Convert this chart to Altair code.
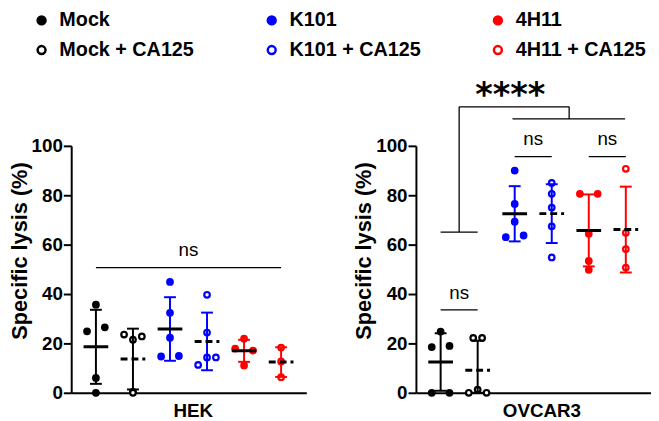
import altair as alt
import pandas as pd

# ---------------- data ----------------
groups = ["Mock", "Mock + CA125", "K101", "K101 + CA125", "4H11", "4H11 + CA125"]
stroke_colors = ["#000000", "#000000", "#0000ff", "#0000ff", "#ff0000", "#ff0000"]
fill_colors = ["#000000", "#ffffff", "#0000ff", "#ffffff", "#ff0000", "#ffffff"]

# HEK (values in %, slot = horizontal scatter position of each dot)
hek_mock = [35.7, 24.9, 26.5, 6.0, 0.0]
hek_mock_slot = [0, -1, 1, 0, 0]
hek_mock_ca = [23.6, 21.5, 22.8, 0.4, 0.0]
hek_mock_ca_slot = [-1, 0, 1, 0, 0]
hek_k101 = [44.9, 32.4, 22.3, 14.7, 14.9]
hek_k101_slot = [0, 0, 0, -1, 1]
hek_k101_ca = [39.7, 24.4, 11.3, 14.3, 14.3]
hek_k101_ca_slot = [0, 0, -1, 0, 1]
hek_4h11 = [21.9, 17.9, 17.1, 11.1]
hek_4h11_slot = [0, -1, 1, 0]
hek_4h11_ca = [18.3, 12.7, 6.3]
hek_4h11_ca_slot = [0, 0, 0]

# OVCAR3
ov_mock = [24.8, 18.5, 19.0, 0.0, 0.0]
ov_mock_slot = [0, -1, 1, -1, 1]
ov_mock_ca = [22.2, 22.2, 0.0, 1.3, 0.0]
ov_mock_ca_slot = [-0.5, 0.5, -1, 0, 1]
ov_k101 = [90.0, 76.5, 69.3, 63.0, 63.7]
ov_k101_slot = [0, 0, 0, -1, 1]
ov_k101_ca = [85.0, 80.6, 75.0, 67.4, 54.8]
ov_k101_ca_slot = [0, 0, 0, 0, 0]
ov_4h11 = [80.6, 80.6, 64.4, 53.4, 49.8]
ov_4h11_slot = [-1, 1, 0, 0, 0]
ov_4h11_ca = [90.7, 64.8, 58.2, 50.7]
ov_4h11_ca_slot = [0, 0, 0, 0]

# significance annotations (group position, % value)
hek_br_x = [1]
hek_br_x2 = [6]
hek_br_y = [50.7]
hek_br_y2 = [50.7]
hek_ns_x = [3.5]
hek_ns_y = [58.0]
hek_ns_text = ["ns"]

ov_br_x = [1, 3, 5, 1, 1.5, 1.5, 4.47, 2.94]
ov_br_x2 = [2, 4, 6, 2, 1.5, 4.47, 4.47, 5.98]
ov_br_y = [33.6, 95.6, 95.6, 65.1, 65.1, 115.8, 115.8, 110.9]
ov_br_y2 = [33.6, 95.6, 95.6, 65.1, 115.8, 115.8, 110.9, 110.9]
ov_ns_x = [1.5, 3.5, 5.5]
ov_ns_y = [40.5, 102.7, 102.7]
ov_ns_text = ["ns", "ns", "ns"]
ov_star_x = [2.88]
ov_star_y = [116.0]
ov_star_text = ["****"]

FONT = "Liberation Sans"


def make_df(series):
    rows = []
    for gi, (g, vals, slots) in enumerate(series, start=1):
        for v, s in zip(vals, slots):
            rows.append({"group": g, "gi": gi, "value": v, "slot": s,
                         "ca": "yes" if "CA125" in g else "no"})
    return pd.DataFrame(rows)


hek_df = make_df([
    (groups[0], hek_mock, hek_mock_slot),
    (groups[1], hek_mock_ca, hek_mock_ca_slot),
    (groups[2], hek_k101, hek_k101_slot),
    (groups[3], hek_k101_ca, hek_k101_ca_slot),
    (groups[4], hek_4h11, hek_4h11_slot),
    (groups[5], hek_4h11_ca, hek_4h11_ca_slot),
])
ov_df = make_df([
    (groups[0], ov_mock, ov_mock_slot),
    (groups[1], ov_mock_ca, ov_mock_ca_slot),
    (groups[2], ov_k101, ov_k101_slot),
    (groups[3], ov_k101_ca, ov_k101_ca_slot),
    (groups[4], ov_4h11, ov_4h11_slot),
    (groups[5], ov_4h11_ca, ov_4h11_ca_slot),
])

stroke_scale = alt.Scale(domain=groups, range=stroke_colors)
fill_scale = alt.Scale(domain=groups, range=fill_colors)
dash_scale = alt.Scale(domain=["no", "yes"], range=[[1, 0], [7, 4]])
xscale = alt.Scale(domain=[0.333, 6.68], nice=False, zero=False)
yscale = alt.Scale(domain=[0, 100], nice=False)


def panel(df, br, ns, star, title, title_x, show_legend):
    if show_legend:
        leg = alt.Legend(title=None, orient="none", legendX=-40, legendY=-137,
                         columns=3, direction="vertical", symbolType="circle",
                         symbolSize=64, symbolStrokeWidth=2.5, labelFont=FONT,
                         labelFontSize=20, labelFontWeight="bold", labelColor="black",
                         labelOffset=8, columnPadding=68, rowPadding=10, padding=0)
    else:
        leg = None
    xax = alt.Axis(title=title, labels=False, ticks=False, grid=False,
                   titleX=title_x, titlePadding=9, titleFontSize=19)
    yax = alt.Axis(title="Specific lysis (%)", values=[0, 20, 40, 60, 80, 100],
                   grid=False, titleY=106)

    base = alt.Chart(df)
    points = base.transform_calculate(xp="datum.gi + datum.slot * 0.24").mark_point(
        shape="circle", size=32, strokeWidth=2.2, opacity=1
    ).encode(
        x=alt.X("xp:Q", scale=xscale, axis=xax),
        y=alt.Y("value:Q", scale=yscale, axis=yax),
        stroke=alt.Stroke("group:N", scale=stroke_scale, legend=leg),
        fill=alt.Fill("group:N", scale=fill_scale, legend=leg),
    )
    stats = base.transform_aggregate(
        mean="mean(value)", sd="stdev(value)", groupby=["group", "gi", "ca"]
    ).transform_calculate(
        lo="max(0, datum.mean - datum.sd)", hi="datum.mean + datum.sd"
    )
    bars = stats.mark_rule(strokeWidth=2).encode(
        x=alt.X("gi:Q", scale=xscale, axis=xax),
        y=alt.Y("lo:Q", scale=yscale, axis=yax),
        y2="hi:Q",
        stroke=alt.Stroke("group:N", scale=stroke_scale, legend=leg),
    )
    cap_hi = stats.mark_rule(strokeWidth=2, xOffset=-6, x2Offset=6).encode(
        x=alt.X("gi:Q", scale=xscale, axis=xax), x2="gi:Q",
        y=alt.Y("hi:Q", scale=yscale, axis=yax),
        stroke=alt.Stroke("group:N", scale=stroke_scale, legend=leg),
    )
    cap_lo = stats.mark_rule(strokeWidth=2, xOffset=-6, x2Offset=6).encode(
        x=alt.X("gi:Q", scale=xscale, axis=xax), x2="gi:Q",
        y=alt.Y("lo:Q", scale=yscale, axis=yax),
        stroke=alt.Stroke("group:N", scale=stroke_scale, legend=leg),
    )
    means = stats.mark_rule(strokeWidth=3, color="black", xOffset=-12.5, x2Offset=12.5).encode(
        x=alt.X("gi:Q", scale=xscale, axis=xax), x2="gi:Q",
        y=alt.Y("mean:Q", scale=yscale, axis=yax),
        strokeDash=alt.StrokeDash("ca:N", scale=dash_scale, legend=None),
    )
    br_df = pd.DataFrame({"x": br[0], "x2": br[1], "y": br[2], "y2": br[3]})
    brackets = alt.Chart(br_df).mark_rule(strokeWidth=1.3, color="black").encode(
        x=alt.X("x:Q", scale=xscale, axis=xax), x2="x2:Q",
        y=alt.Y("y:Q", scale=yscale, axis=yax), y2="y2:Q",
    )
    ns_df = pd.DataFrame({"x": ns[0], "y": ns[1], "t": ns[2]})
    ns_text = alt.Chart(ns_df).mark_text(font=FONT, fontSize=19, color="black",
                                         baseline="middle").encode(
        x=alt.X("x:Q", scale=xscale, axis=xax),
        y=alt.Y("y:Q", scale=yscale, axis=yax),
        text="t:N",
    )
    layers = [points, bars, cap_hi, cap_lo, means, brackets, ns_text]
    if star is not None:
        st_df = pd.DataFrame({"x": star[0], "y": star[1], "t": star[2]})
        layers.append(alt.Chart(st_df).mark_text(
            font="DejaVu Sans", fontWeight="bold", fontSize=34, color="black",
            baseline="alphabetic").encode(
            x=alt.X("x:Q", scale=xscale, axis=xax),
            y=alt.Y("y:Q", scale=yscale, axis=yax),
            text="t:N",
        ))
    return alt.layer(*layers).properties(width=238, height=250)


left = panel(hek_df, (hek_br_x, hek_br_x2, hek_br_y, hek_br_y2),
             (hek_ns_x, hek_ns_y, hek_ns_text), None, "HEK", 123, True)
right = panel(ov_df, (ov_br_x, ov_br_x2, ov_br_y, ov_br_y2),
              (ov_ns_x, ov_ns_y, ov_ns_text),
              (ov_star_x, ov_star_y, ov_star_text), "OVCAR3", 127, False)

chart = alt.hconcat(left, right, spacing=111, bounds="flush").resolve_scale(
    stroke="independent", fill="independent", strokeDash="independent"
).properties(padding=0).configure_view(stroke=None).configure_axis(
    domainColor="black", domainWidth=2, tickColor="black", tickWidth=2, tickSize=8,
    labelFont=FONT, labelFontSize=19, labelFontWeight="bold", labelColor="black",
    labelPadding=1, titleFont=FONT, titleFontSize=22, titleFontWeight="bold",
    titleColor="black", titlePadding=0,
)

chart.save("out.html", embed_options={"renderer": "svg", "actions": False})
